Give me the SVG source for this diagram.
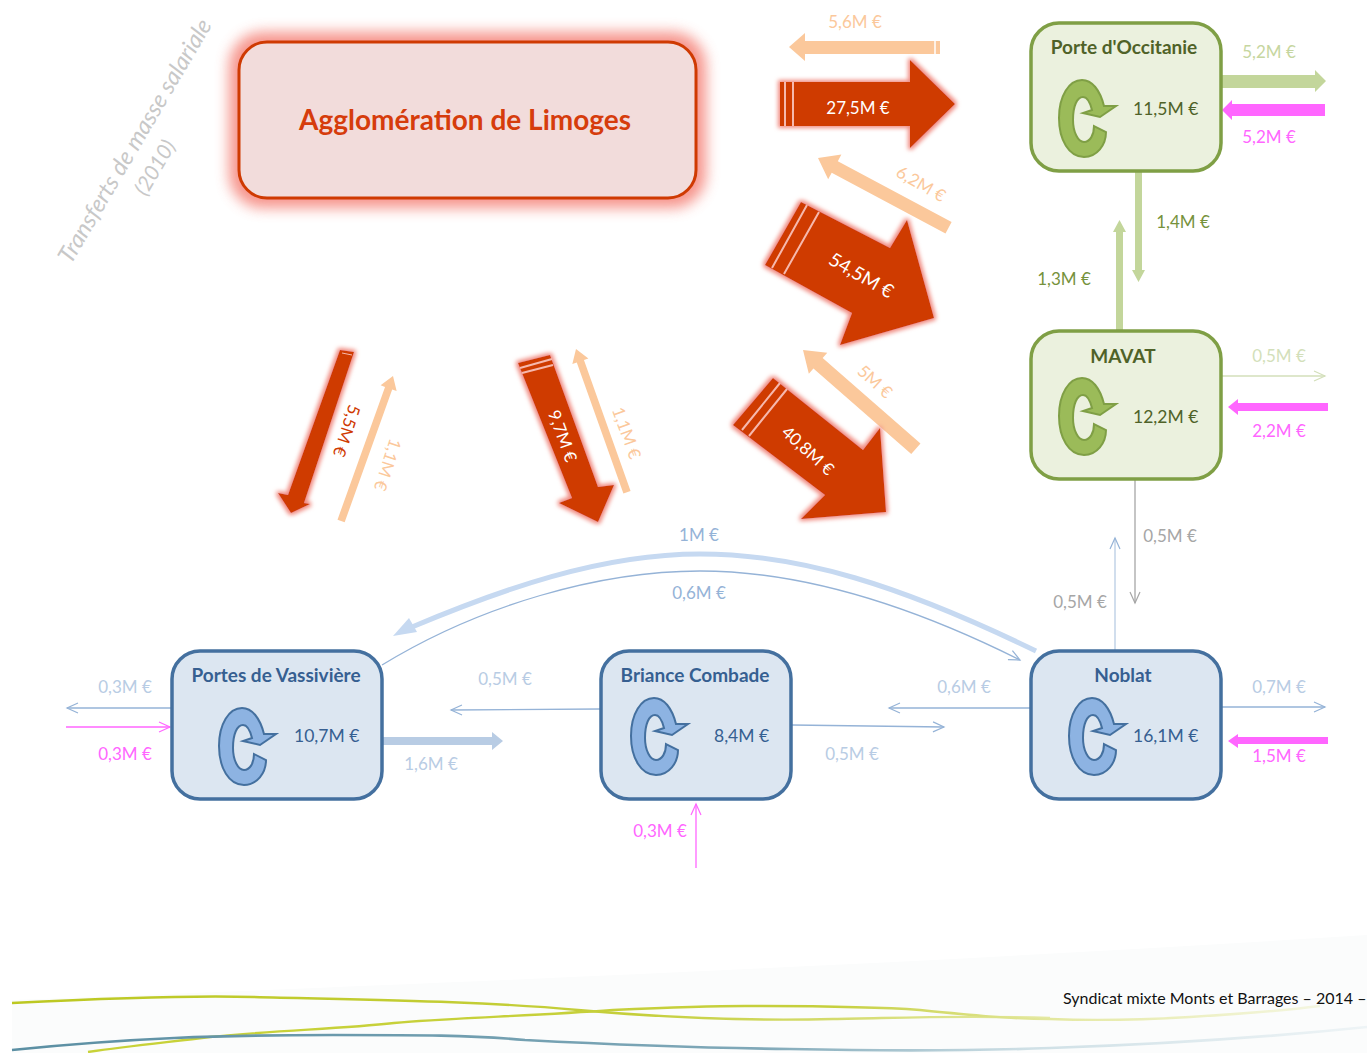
<svg xmlns="http://www.w3.org/2000/svg" xmlns:xlink="http://www.w3.org/1999/xlink" width="1367" height="1053" viewBox="0 0 1367 1053">
<style>
text{font-family:Lato,"Open Sans","Liberation Sans",sans-serif;font-size:17px}
.m{text-anchor:middle}
.peach{fill:#fbc89b}.lg{fill:#c6d6a0}.dg{fill:#76923c}.mag{fill:#ff66ff}.lb{fill:#b8cce4}.pb{fill:#95b3d7}.wh{fill:#fff}.rd{fill:#cf3a02}
.gn{fill:#4f6228;font-weight:700;font-size:19px;text-anchor:middle}
.bn{fill:#365f91;font-weight:700;font-size:19px;text-anchor:middle}
.gv{fill:#4f6228;font-size:17.5px}.bv{fill:#365f91;font-size:17.5px}
.green{fill:#ebf1de;stroke:#7f9f45;stroke-width:3.5}
.blue{fill:#dce6f1;stroke:#44709f;stroke-width:3.5}
.red{fill:#cf3a02;filter:url(#glow)}
.stripe{stroke:#f6b8ad;stroke-width:2;fill:none}
.thin{fill:none;stroke-width:1.3}
.pbs{stroke:#95b3d7}.mags{stroke:#ff66ff}.lgs{stroke:#d3dfba}.gys{stroke:#a6a6a6}.lbs{stroke:#b8cce4}
</style>
<defs>
<filter id="glow" x="-20%" y="-20%" width="140%" height="140%"><feMorphology in="SourceAlpha" operator="dilate" radius="1.5" result="d"/><feGaussianBlur in="d" stdDeviation="2" result="b"/><feFlood flood-color="#f08a80" result="c"/><feComposite in="c" in2="b" operator="in" result="s"/><feMerge><feMergeNode in="s"/><feMergeNode in="SourceGraphic"/></feMerge></filter>
<filter id="glow2" x="-15%" y="-30%" width="130%" height="160%"><feGaussianBlur stdDeviation="7"/></filter>
<path id="g" d="M47 52C47 65 38 77 25 77C10 77 0 60 0 38C0 16 10 0 23 0C33 0 41 10 45 26L57 26L41 37L24 33L33 30C31 22 28 17 24 17C18 17 14 26 14 40C14 52 19 62 25 62C31 62 35 55 35 46Z"/>
<marker id="oPb" markerWidth="14" markerHeight="12" refX="12" refY="6" orient="auto" markerUnits="userSpaceOnUse"><path d="M1 1L12 6L1 11" fill="none" stroke="#95b3d7" stroke-width="1.2"/></marker>
<marker id="oMag" markerWidth="14" markerHeight="12" refX="12" refY="6" orient="auto" markerUnits="userSpaceOnUse"><path d="M1 1L12 6L1 11" fill="none" stroke="#ff66ff" stroke-width="1.2"/></marker>
<marker id="oLg" markerWidth="14" markerHeight="12" refX="12" refY="6" orient="auto" markerUnits="userSpaceOnUse"><path d="M1 1L12 6L1 11" fill="none" stroke="#d3dfba" stroke-width="1.2"/></marker>
<marker id="oGy" markerWidth="14" markerHeight="12" refX="12" refY="6" orient="auto" markerUnits="userSpaceOnUse"><path d="M1 1L12 6L1 11" fill="none" stroke="#a6a6a6" stroke-width="1.2"/></marker>
<linearGradient id="w1" gradientUnits="userSpaceOnUse" x1="12" y1="0" x2="1060" y2="0"><stop offset="0" stop-color="#bcc821"/><stop offset=".6" stop-color="#c5cf3c"/><stop offset="1" stop-color="#e6eaa8"/></linearGradient>
<linearGradient id="w2" gradientUnits="userSpaceOnUse" x1="88" y1="0" x2="1320" y2="0"><stop offset="0" stop-color="#c8d238"/><stop offset=".6" stop-color="#c5cf3c"/><stop offset=".8" stop-color="#e6eaa8"/><stop offset="1" stop-color="#f4f6e0"/></linearGradient>
<linearGradient id="w3" gradientUnits="userSpaceOnUse" x1="12" y1="0" x2="1367" y2="0"><stop offset="0" stop-color="#5b8fa3"/><stop offset=".55" stop-color="#7fa8b8"/><stop offset=".75" stop-color="#cfe0e6"/><stop offset="1" stop-color="#eef4f6"/></linearGradient>
</defs>
<rect width="1367" height="1053" fill="#fff"/>
<g id="wave">
<path d="M12 1053V1000C400 985 900 965 1367 935V1053Z" fill="#fbfcfc"/>
<path d="M12 1003C110 998 190 995 254 997C370 1000 480 1001 578 1010C680 1019 760 1021 833 1019C900 1018 960 1015 1050 1018" fill="none" stroke="url(#w1)" stroke-width="2.4"/>
<path d="M88 1052C130 1046 170 1042 210 1037C280 1030 340 1029 394 1023C450 1018 530 1016 613 1010C680 1007 710 1006 745 1006C820 1006 880 1007 920 1010C970 1015 1010 1019 1050 1019C1100 1021 1140 1020 1190 1017C1240 1014 1280 1011 1320 1006" fill="none" stroke="url(#w2)" stroke-width="2.4"/>
<path d="M12 1050C130 1038 220 1035 333 1035C420 1035 470 1035 525 1040C620 1045 700 1048 790 1049C880 1051 970 1051 1050 1048C1170 1044 1280 1036 1367 1027" fill="none" stroke="url(#w3)" stroke-width="2.6"/>
</g>
<g id="title">
<text transform="translate(71 265) rotate(-59.5)" style="font-size:23.6px;font-style:italic" fill="#c8c8c8">Transferts de masse salariale</text>
<text transform="translate(146 197) rotate(-59.5)" style="font-size:21px;font-style:italic" fill="#c8c8c8">(2010)</text>
</g>
<g id="connectors">
<polygon fill="#fbc89b" points="940,41 805,41 805,33 789,47 805,61 805,54 940,54"/>
<path d="M935 41V54" stroke="#fff" stroke-width="1.5"/>
<polygon class="red" points="780,82 910,82 910,60 955,104 910,148 910,126 780,126"/>
<path class="stripe" d="M785 82V126M793 82V126"/>
<g transform="translate(818 158) rotate(208.1)" fill="#fbc89b"><polygon points="0,0 -19,-14 -19,-6.5 -148,-6.5 -148,6.5 -19,6.5 -19,14"/></g>
<polygon class="red" points="801,202 890,248 907,220 934,318 840,345 852,313 765,265"/>
<path class="stripe" d="M807 205L772 268M819 212L784 274"/>
<g transform="translate(803 350) rotate(221.2)" fill="#fbc89b"><polygon points="0,0 -20,-14 -20,-7 -150,-7 -150,7 -20,7 -20,14"/></g>
<polygon class="red" points="773,378 863,450 880,428 886,512 801,519 825,495 733,425"/>
<path class="stripe" d="M780 383L742 430M787 389L749 436"/>
<polygon class="red" points="518,363 550,355 598,487 614,485 598,522 559,503 572,498"/>
<path class="stripe" d="M520 368L552 359M522 373L553 365"/>
<polygon class="red" points="340,350 354,352 304,503 310,504 291,513 278,493 288,495"/>
<path d="M342 353L352 355" stroke="#f6b8ad" fill="none"/>
<g transform="translate(393 376) rotate(-70.3)" fill="#fbc89b"><polygon points="0,0 -13,-8.5 -13,-3.8 -154,-3.8 -154,3.8 -13,3.8 -13,8.5"/></g>
<g transform="translate(576 349) rotate(250.4)" fill="#fbc89b"><polygon points="0,0 -13,-8.5 -13,-3.8 -152,-3.8 -152,3.8 -13,3.8 -13,8.5"/></g>
<polygon fill="#c3d69b" points="1222,75 1315,75 1315,70 1326,81 1315,92 1315,88 1222,88"/>
<polygon fill="#ff66ff" points="1325,104 1232,104 1232,100 1222,110 1232,120 1232,116 1325,116"/>
<polygon fill="#c3d69b" points="1135,172 1142,172 1142,270 1145,270 1138.5,282 1132,270 1135,270"/>
<polygon fill="#c3d69b" points="1116,330 1123,330 1123,232 1126,232 1119.5,220 1113,232 1116,232"/>
<path class="thin lgs" d="M1222 376H1325" marker-end="url(#oLg)"/>
<polygon fill="#ff66ff" points="1328,403 1238,403 1238,399 1228,407 1238,415 1238,411 1328,411"/>
<path class="thin gys" d="M1135 480V603" marker-end="url(#oGy)"/>
<path class="thin lbs" d="M1115 650V538" marker-end="url(#oPb)"/>
<path class="thin pbs" d="M1222 707H1325" marker-end="url(#oPb)"/>
<polygon fill="#ff66ff" points="1328,737 1238,737 1238,734 1228,741 1238,748 1238,744 1328,744"/>
<path class="thin pbs" d="M1030 708H889" marker-end="url(#oPb)"/>
<path class="thin pbs" d="M792 725L944 727" marker-end="url(#oPb)"/>
<path class="thin pbs" d="M600 709L451 710" marker-end="url(#oPb)"/>
<path class="thin mags" d="M696 868V804" marker-end="url(#oMag)"/>
<path class="thin pbs" d="M172 708H67" marker-end="url(#oPb)"/>
<path class="thin mags" d="M66 727H170" marker-end="url(#oMag)"/>
<polygon fill="#b8cce4" points="382,737 492,737 492,732 503,741 492,750 492,745 382,745"/>
<path d="M1036 651C900 585 800 554 700 554C600 554 500 590 412 627" fill="none" stroke="#c6d9f1" stroke-width="5"/>
<polygon fill="#c6d9f1" points="393,636 409,618 417,632"/>
<path class="thin pbs" d="M382 665C480 605 600 571 700 571C800 571 910 605 1020 660" marker-end="url(#oPb)"/>
</g>
<g id="agglo">
<rect x="229" y="32" width="477" height="176" rx="34" fill="#f47a70" opacity=".8" filter="url(#glow2)"/>
<rect x="239" y="42" width="457" height="156" rx="28" fill="#f2dcdb" stroke="#cf3a02" stroke-width="3"/>
<text x="465" y="130" class="m" style="font-size:28px;font-weight:700" fill="#d63c0c">Agglomération de Limoges</text>
</g>
<g id="porte-occitanie">
<rect class="green" x="1031" y="23" width="190" height="148" rx="28"/>
<text x="1124" y="54" class="gn">Porte d'Occitanie</text>
<use xlink:href="#g" href="#g" x="1059" y="80" fill="#9bbb59" stroke="#7f9f45" stroke-width="2"/>
<text x="1133" y="115" class="gv">11,5M €</text>
</g>
<g id="mavat">
<rect class="green" x="1031" y="331" width="190" height="148" rx="28"/>
<text x="1123" y="363" class="gn">MAVAT</text>
<use xlink:href="#g" href="#g" x="1059" y="378" fill="#9bbb59" stroke="#7f9f45" stroke-width="2"/>
<text x="1133" y="423" class="gv">12,2M €</text>
</g>
<g id="noblat">
<rect class="blue" x="1031" y="651" width="190" height="148" rx="28"/>
<text x="1123" y="682" class="bn">Noblat</text>
<use xlink:href="#g" href="#g" x="1069" y="698" fill="#8db3e2" stroke="#44709f" stroke-width="2"/>
<text x="1133" y="742" class="bv">16,1M €</text>
</g>
<g id="briance-combade">
<rect class="blue" x="601" y="651" width="190" height="148" rx="28"/>
<text x="695" y="682" class="bn">Briance Combade</text>
<use xlink:href="#g" href="#g" x="631" y="698" fill="#8db3e2" stroke="#44709f" stroke-width="2"/>
<text x="714" y="742" class="bv">8,4M €</text>
</g>
<g id="portes-vassiviere">
<rect class="blue" x="172" y="651" width="210" height="148" rx="28"/>
<text x="276" y="682" class="bn">Portes de Vassivière</text>
<use xlink:href="#g" href="#g" x="219" y="708" fill="#8db3e2" stroke="#44709f" stroke-width="2"/>
<text x="294" y="742" class="bv">10,7M €</text>
</g>
<g id="labels">
<text x="855" y="28" class="m peach">5,6M €</text>
<text x="858" y="114" class="m wh">27,5M €</text>
<text transform="translate(918 189) rotate(30)" class="m peach">6,2M €</text>
<text transform="translate(858 281) rotate(30)" class="m wh" style="font-size:19px">54,5M €</text>
<text transform="translate(871 386) rotate(42)" class="m peach">5M €</text>
<text transform="translate(804 455) rotate(42)" class="m wh">40,8M €</text>
<text transform="translate(557 438) rotate(70)" class="m wh">9,7M €</text>
<text transform="translate(621 435) rotate(70)" class="m peach">1,1M €</text>
<text transform="translate(341 429) rotate(108)" class="m rd">5,5M €</text>
<text transform="translate(382 463) rotate(108)" class="m peach">1,1M €</text>
<text x="1269" y="58" class="m lg">5,2M €</text>
<text x="1269" y="143" class="m mag">5,2M €</text>
<text x="1183" y="228" class="m dg">1,4M €</text>
<text x="1064" y="285" class="m dg">1,3M €</text>
<text x="1279" y="362" class="m" fill="#d3dfba">0,5M €</text>
<text x="1279" y="437" class="m mag">2,2M €</text>
<text x="1170" y="542" class="m" fill="#a6a6a6">0,5M €</text>
<text x="1080" y="608" class="m" fill="#a6a6a6">0,5M €</text>
<text x="699" y="541" class="m pb">1M €</text>
<text x="699" y="599" class="m pb">0,6M €</text>
<text x="125" y="693" class="m lb">0,3M €</text>
<text x="125" y="760" class="m mag">0,3M €</text>
<text x="505" y="685" class="m lb">0,5M €</text>
<text x="431" y="770" class="m lb">1,6M €</text>
<text x="964" y="693" class="m lb">0,6M €</text>
<text x="852" y="760" class="m lb">0,5M €</text>
<text x="1279" y="693" class="m lb">0,7M €</text>
<text x="1279" y="762" class="m mag">1,5M €</text>
<text x="660" y="837" class="m mag">0,3M €</text>
<text x="1063" y="1004" style="font-size:16px" fill="#111">Syndicat mixte Monts et Barrages – 2014 –</text>
</g>
</svg>
